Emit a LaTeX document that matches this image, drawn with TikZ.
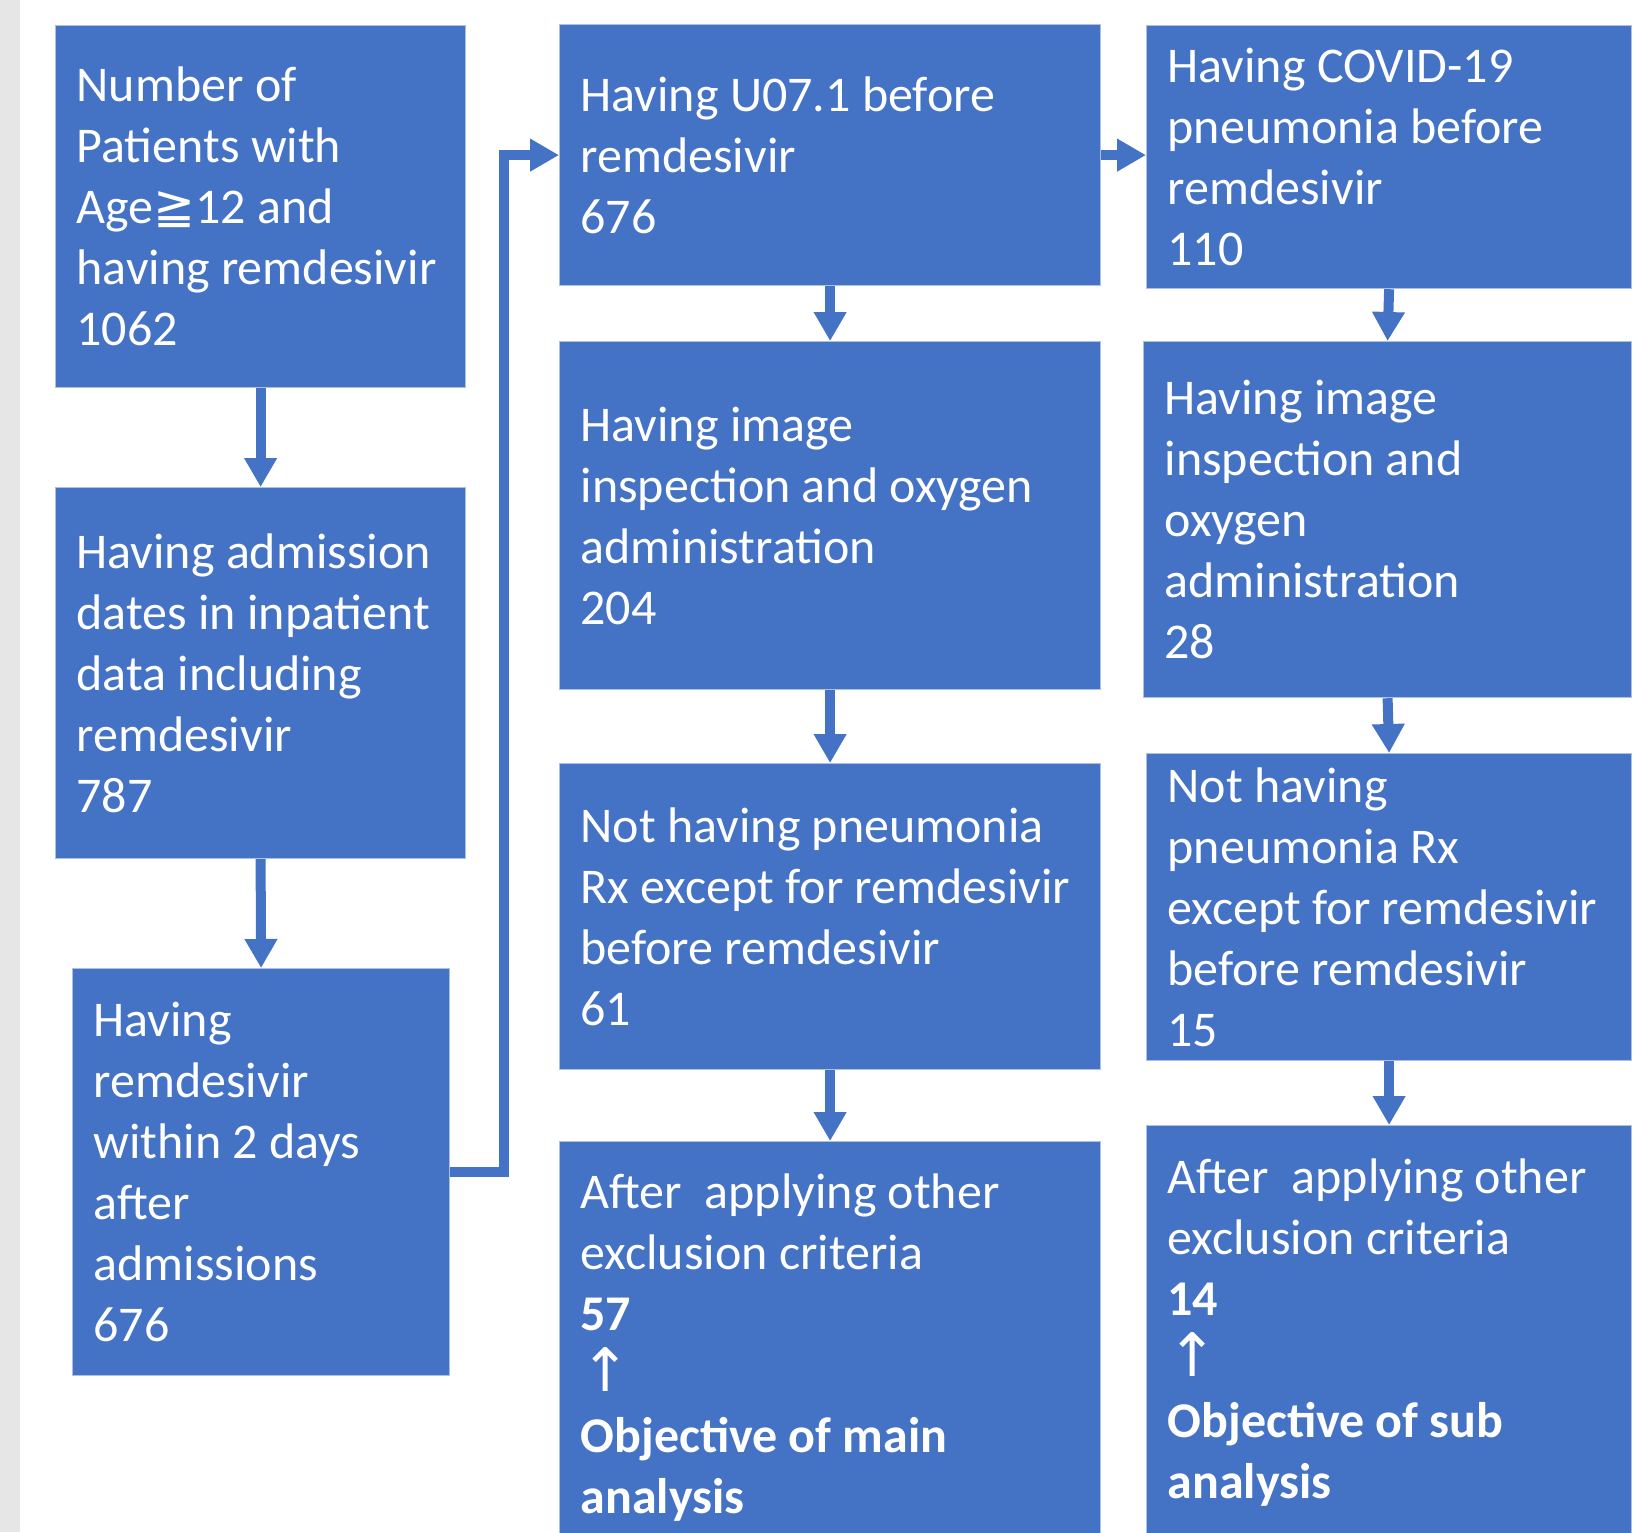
\documentclass[tikz,border=0pt]{standalone}
\usepackage{fontspec}
\setmainfont{Carlito}
\newfontfamily\dvsans{DejaVu Sans}
\usepackage{xcolor}
\usepackage{tikz}
\usetikzlibrary{arrows.meta}

\definecolor{boxblue}{HTML}{4472C4}
\definecolor{sidebar}{HTML}{E7E6E6}

\newcommand{\uparr}{{\dvsans\fontsize{30pt}{30.5pt}\selectfont ↑}}

\tikzset{
    flowbox/.style={fill=boxblue, draw=boxblue!45!white, line width=0.6pt, text=white,
        align=flush left, anchor=north west, inner xsep=10.5pt, inner ysep=0pt},
    flowarrow/.style={draw=boxblue, line width=5pt, -{Triangle[width=15.5pt,length=14.5pt]}},
}

\begin{document}
\begin{tikzpicture}[x=0.5pt, y=-0.5pt, font=\fontsize{25pt}{30.5pt}\selectfont]
    \useasboundingbox (0,0) rectangle (1638,1532);
    \fill[sidebar] (0,0) rectangle (20,1532);
    % left column
    \node[flowbox, text width=184pt, minimum height=181pt] (patients) at (55,25)
        {Number of\\Patients with\\Age{\dvsans ≧}12 and\\\mbox{having remdesivir}\\1062};
    \node[flowbox, text width=184pt, minimum height=185.5pt] (admission) at (55,487)
        {Having admission\\\mbox{dates in inpatient}\\data including\\remdesivir\\787};
    \node[flowbox, text width=167.5pt, minimum height=203.5pt] (within) at (72,968)
        {Having\\remdesivir\\within 2 days\\after\\admissions\\676};
    % middle column
    \node[flowbox, text width=249.5pt, minimum height=130.5pt] (uzero) at (559,24)
        {\mbox{Having U07.1 before}\\remdesivir\\676};
    \node[flowbox, text width=249.5pt, minimum height=174pt] (image) at (559,341)
        {Having image\\\mbox{inspection and oxygen}\\administration\\204};
    \node[flowbox, text width=249.5pt, minimum height=153pt] (norx) at (559,763)
        {\mbox{Not having pneumonia}\\\mbox{Rx except for remdesivir}\\before remdesivir\\61};
    \node[flowbox, text width=249.5pt, minimum height=206pt] (mainobj) at (559,1141)
        {\mbox{After\ \ applying other}\\exclusion criteria\\\textbf{57}\\\uparr\\\textbf{\mbox{Objective of main}}\\\textbf{analysis}};
    % right column
    \node[flowbox, text width=221.5pt, minimum height=131.5pt] (covid) at (1146,25)
        {Having COVID-19\\pneumonia before\\remdesivir\\110};
    \node[flowbox, text width=223pt, minimum height=178pt] (subimage) at (1143,341)
        {Having image\\inspection and\\oxygen\\administration\\28};
    \node[flowbox, text width=221.5pt, minimum height=153.5pt] (subnorx) at (1146,753)
        {Not having\\pneumonia Rx\\\mbox{except for remdesivir}\\before remdesivir\\15};
    \node[flowbox, text width=221.5pt, minimum height=207pt] (subobj) at (1146,1125)
        {\mbox{After\ \ applying other}\\exclusion criteria\\\textbf{14}\\\uparr\\\textbf{Objective of sub}\\\textbf{analysis}};
    % connectors
    \draw[flowarrow] (patients.south) -- (admission.north);
    \draw[flowarrow] (admission.south) -- (within.north);
    \draw[flowarrow] (within.east) -- ++(54,0) |- (uzero.west);
    \draw[flowarrow] (uzero.east) -- (uzero.east -| covid.west);
    \draw[flowarrow] (uzero.south) -- (image.north);
    \draw[flowarrow] (image.south) -- (norx.north);
    \draw[flowarrow] (norx.south) -- (mainobj.north);
    \draw[flowarrow] (covid.south) -- (subimage.north);
    \draw[flowarrow] (subimage.south) -- (subnorx.north);
    \draw[flowarrow] (subnorx.south) -- (subobj.north);
\end{tikzpicture}
\end{document}
